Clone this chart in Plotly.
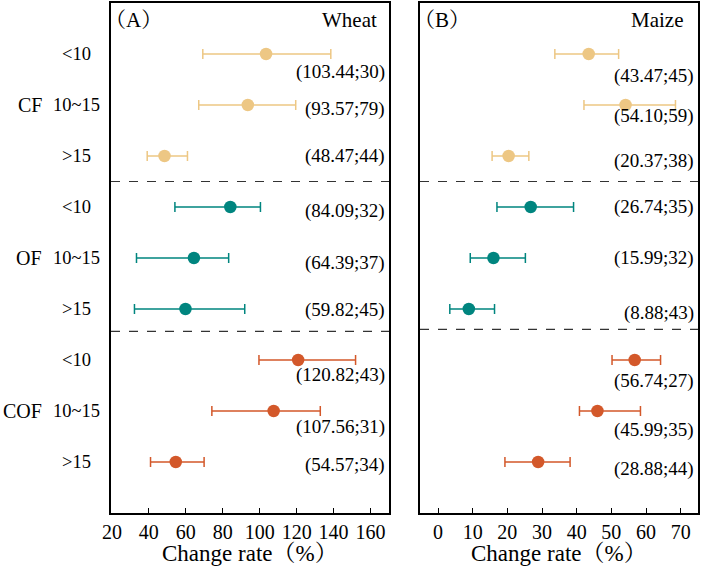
import plotly.graph_objects as go

# ---------------- data ----------------
groups = ["CF", "OF", "COF"]
levels = ["<10", "10~15", ">15"]
row_pos = [9, 8, 7, 6, 5, 4, 3, 2, 1]

wheat_mean = [103.44, 93.57, 48.47, 84.09, 64.39, 59.82, 120.82, 107.56, 54.57]
wheat_low = [69.2, 67.0, 39.1, 54.1, 33.3, 32.2, 99.6, 74.1, 40.9]
wheat_high = [138.5, 119.5, 60.9, 100.4, 83.2, 91.9, 151.9, 132.8, 69.9]
wheat_n = [30, 79, 44, 32, 37, 45, 43, 31, 34]

maize_mean = [43.47, 54.10, 20.37, 26.74, 15.99, 8.88, 56.74, 45.99, 28.88]
maize_low = [33.7, 42.1, 15.6, 17.0, 9.3, 3.4, 50.2, 40.8, 19.3]
maize_high = [52.1, 68.5, 26.2, 39.1, 25.2, 16.3, 64.2, 58.4, 38.1]
maize_n = [45, 59, 38, 35, 32, 43, 27, 35, 44]

x_ticks_a = [20, 40, 60, 80, 100, 120, 140, 160]
x_ticks_b = [0, 10, 20, 30, 40, 50, 60, 70]

# label vertical offsets (data units) for the "(mean;n)" texts
wheat_lab_dy = [-0.35, -0.08, 0, -0.07, -0.09, -0.02, -0.3, -0.31, -0.05]
maize_lab_dy = [-0.43, -0.22, -0.1, 0, 0, -0.08, -0.41, -0.37, -0.14]

colors = {"CF": "#EDC784", "OF": "#00857F", "COF": "#D3582A"}

FONT = "Liberation Serif, Times New Roman, Noto Serif CJK SC, Noto Sans CJK SC, serif"

fig = go.Figure()

def add_panel(means, lows, highs, xaxis, yaxis):
    for g_i, g in enumerate(groups):
        idx = range(g_i * 3, g_i * 3 + 3)
        xs = [means[i] for i in idx]
        ys = [row_pos[i] for i in idx]
        plus = [highs[i] - means[i] for i in idx]
        minus = [means[i] - lows[i] for i in idx]
        fig.add_trace(go.Scatter(
            x=xs, y=ys, mode="markers",
            marker=dict(size=12.5, color=colors[g]),
            error_x=dict(type="data", symmetric=False, array=plus, arrayminus=minus,
                         color=colors[g], thickness=1.5, width=5),
            xaxis=xaxis, yaxis=yaxis, showlegend=False,
        ))

add_panel(wheat_mean, wheat_low, wheat_high, "x", "y")
add_panel(maize_mean, maize_low, maize_high, "x2", "y2")

W, H = 702, 568
dom_a = [111 / W, 389 / W]
dom_b = [420 / W, 698 / W]
dom_y = [(H - 513) / H, (H - 3) / H]

axis_common = dict(showline=True, linecolor="black", linewidth=2, mirror=True,
                   ticks="inside", ticklen=5, tickwidth=1.2, tickcolor="black",
                   showgrid=False, zeroline=False,
                   tickfont=dict(family=FONT, size=20, color="black"))
yaxis_common = dict(showline=True, linecolor="black", linewidth=2, mirror=True,
                    showticklabels=False, ticks="", showgrid=False, zeroline=False,
                    range=[0, 10])

fig.update_layout(
    width=W, height=H,
    margin=dict(l=0, r=0, t=0, b=0),
    paper_bgcolor="white", plot_bgcolor="white",
    font=dict(family=FONT, color="black"),
    xaxis=dict(domain=dom_a, range=[19.5, 170], tickvals=x_ticks_a, automargin=False, **axis_common),
    xaxis2=dict(domain=dom_b, range=[-5.2, 75], tickvals=x_ticks_b, automargin=False, **axis_common),
    yaxis=dict(domain=dom_y, anchor="x", **yaxis_common),
    yaxis2=dict(domain=dom_y, anchor="x2", **yaxis_common),
)

# dashed separators
for xr, yr, yv in [("x domain", "y", 6.5), ("x domain", "y", 3.56),
                   ("x2 domain", "y2", 6.5), ("x2 domain", "y2", 3.6)]:
    fig.add_shape(type="line", xref=xr, yref=yr, x0=0, x1=1, y0=yv, y1=yv,
                  line=dict(color="#333333", width=1.2, dash="dash"))

ann = []
# value labels
for means, ns, dys, xr, yr in [(wheat_mean, wheat_n, wheat_lab_dy, "x domain", "y"),
                               (maize_mean, maize_n, maize_lab_dy, "x2 domain", "y2")]:
    for i in range(9):
        ann.append(dict(x=0.993, y=row_pos[i] + dys[i], xref=xr, yref=yr,
                        text=f"({means[i]:.2f};{ns[i]})", showarrow=False,
                        xanchor="right", yanchor="middle",
                        font=dict(family=FONT, size=19, color="black")))

# row labels
for i in range(9):
    ann.append(dict(x=76 / W, y=row_pos[i], xref="paper", yref="y",
                    text=levels[i % 3], showarrow=False, xanchor="center", yanchor="middle",
                    font=dict(family=FONT, size=18.5, color="black")))
for g_i, g in enumerate(groups):
    ann.append(dict(x=44 / W, y=row_pos[g_i * 3 + 1], xref="paper", yref="y",
                    text=g, showarrow=False, xanchor="right", yanchor="middle",
                    font=dict(family=FONT, size=20, color="black")))

# panel titles
ann.append(dict(x=-0.03, y=1, xref="x domain", yref="y domain", yshift=-3, text="（A）",
                showarrow=False, xanchor="left", yanchor="top",
                font=dict(family=FONT, size=21, color="black")))
ann.append(dict(x=0.965, y=1, xref="x domain", yref="y domain", yshift=-3, text="Wheat",
                showarrow=False, xanchor="right", yanchor="top",
                font=dict(family=FONT, size=21, color="black")))
ann.append(dict(x=-0.03, y=1, xref="x2 domain", yref="y2 domain", yshift=-3, text="（B）",
                showarrow=False, xanchor="left", yanchor="top",
                font=dict(family=FONT, size=21, color="black")))
ann.append(dict(x=0.955, y=1, xref="x2 domain", yref="y2 domain", yshift=-3, text="Maize",
                showarrow=False, xanchor="right", yanchor="top",
                font=dict(family=FONT, size=21, color="black")))

# x-axis titles
for xr in ["x domain", "x2 domain"]:
    ann.append(dict(x=0.5, y=(H - 553) / H, xref=xr, yref="paper", text="Change rate（%）",
                    showarrow=False, xanchor="center", yanchor="middle",
                    font=dict(family=FONT, size=23, color="black")))

fig.update_layout(annotations=ann)
fig.write_html("out.html")
